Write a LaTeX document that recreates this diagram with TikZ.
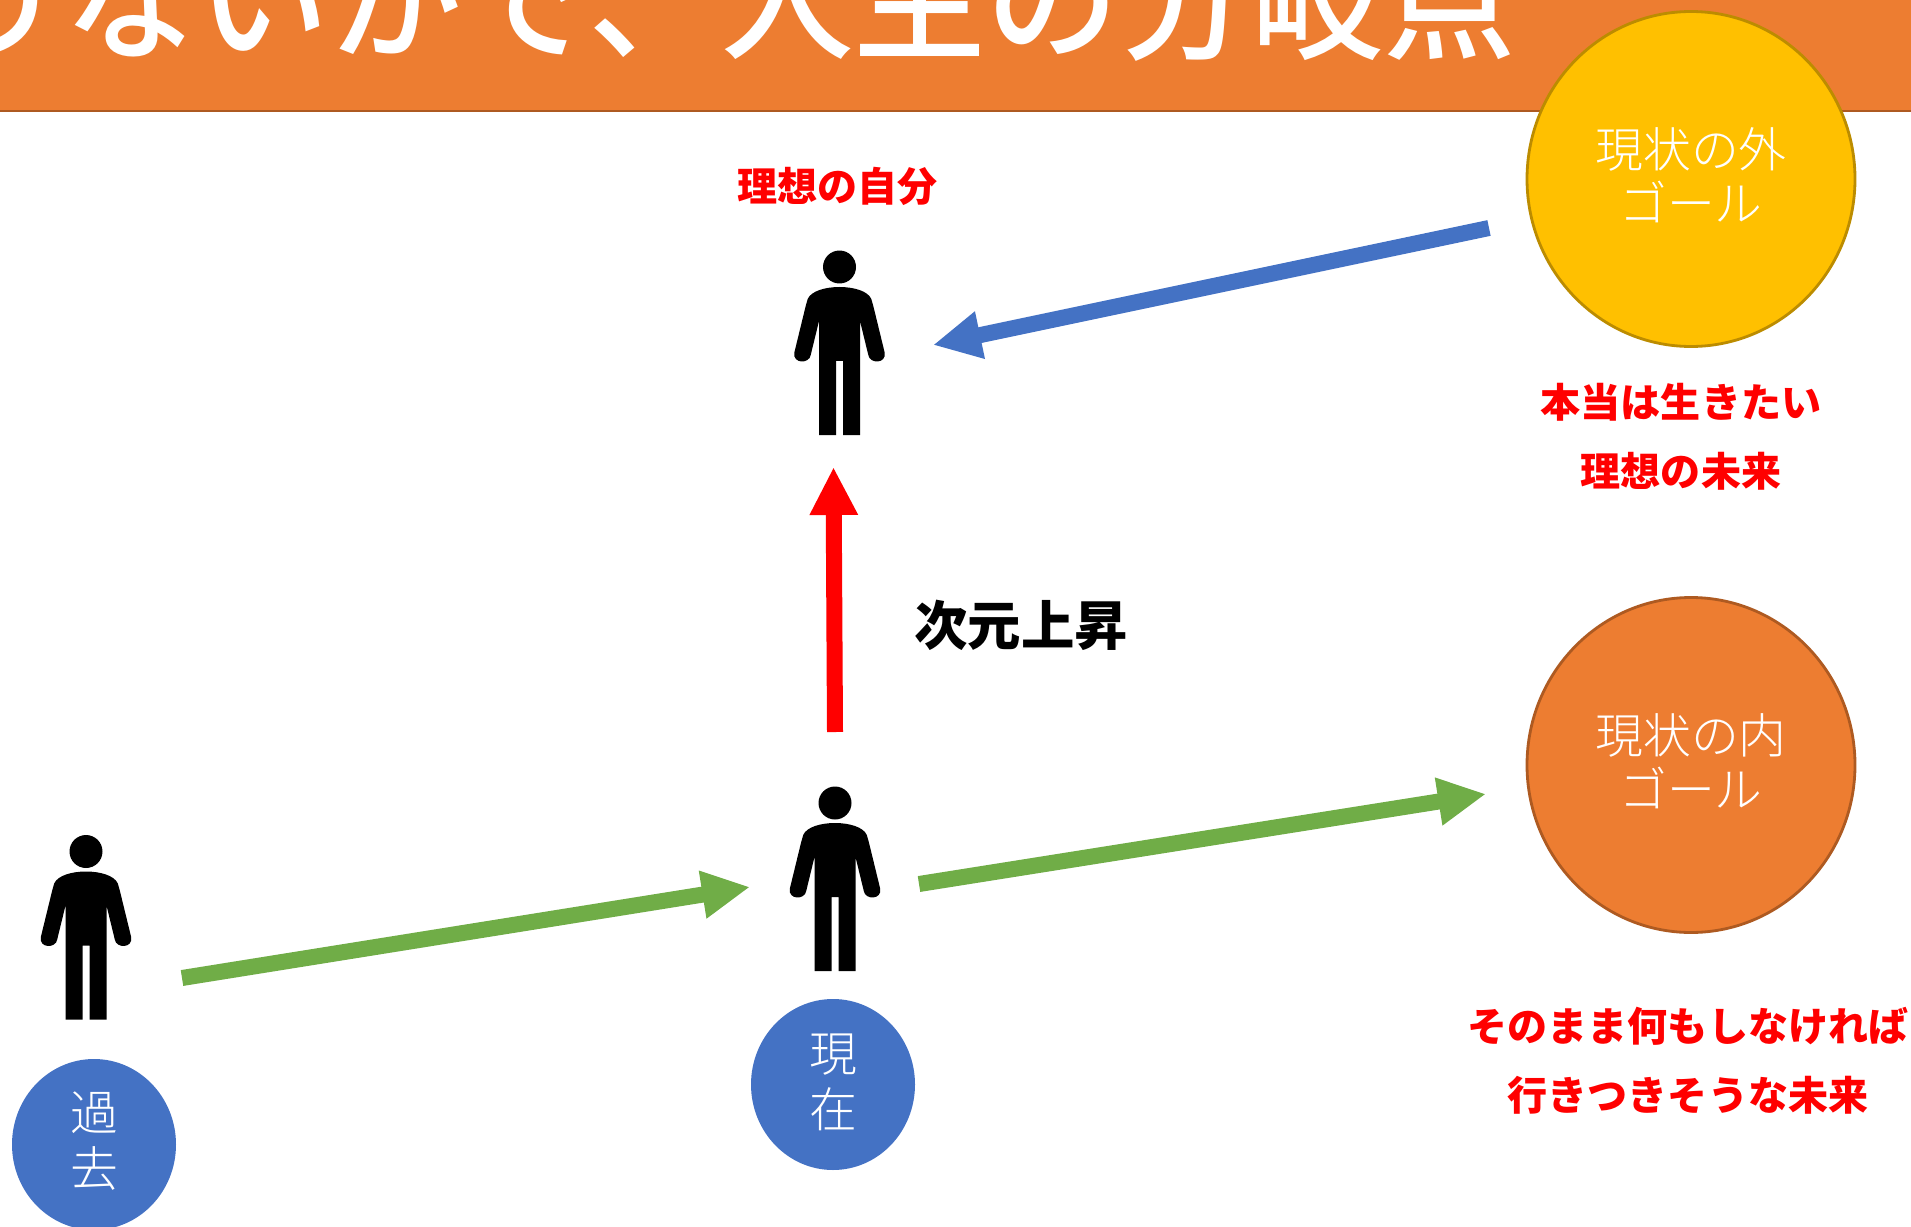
\documentclass[tikz,border=0pt]{standalone}
\usepackage{fontspec}
\setmainfont{Noto Sans CJK JP}
\newfontfamily\jpthin{Noto Sans CJK JP Light}
\newfontfamily\jpmid{Noto Sans CJK JP Medium}
\usepackage{tikz}
\usetikzlibrary{arrows.meta}
\usetikzlibrary{shapes.geometric}
\definecolor{headorange}{HTML}{ED7D31}
\definecolor{headline}{HTML}{AE5A21}
\definecolor{goalyellow}{HTML}{FFC000}
\definecolor{goalline}{HTML}{BC8C00}
\definecolor{timeblue}{HTML}{4472C4}
\definecolor{movegreen}{HTML}{70AD47}
\tikzstyle{person}=[shape=rectangle,inner sep=0pt,minimum width=9.6mm,minimum height=18.8mm,path picture={
	\begin{scope}[shift={(path picture bounding box.center)}]
	\fill[black] (0,.76) circle (.165);
	\fill[black] (-.318,.44) .. controls (-.25,.6) and (.25,.6) .. (.318,.44) -- (.338,.37) -- (.452,-.097) .. controls (.47,-.21) and (.3,-.21) .. (.288,-.12) -- (.205,.22) -- (.205,-.92) -- (.035,-.92) -- (.035,-.18) -- (-.035,-.18) -- (-.035,-.92) -- (-.205,-.92) -- (-.205,.22) -- (-.288,-.12) .. controls (-.3,-.21) and (-.47,-.21) .. (-.452,-.097) -- (-.338,.37) -- cycle;
	\end{scope}}]
\tikzstyle{goalnode}=[shape=ellipse,line width=.8pt,inner sep=0pt,minimum width=32.8mm,minimum height=33.5mm,text=white,align=center,font=\jpthin\fontsize{13.6}{15.4}\selectfont]
\tikzstyle{timenode}=[shape=ellipse,fill=timeblue,inner sep=0pt,minimum width=16.4mm,minimum height=17.1mm,text=white,align=center,font=\jpthin\fontsize{13.6}{16}\selectfont]
\tikzstyle{redlabel}=[text=red,align=center,inner sep=0pt,font=\bfseries\fontsize{11.4}{19.6}\selectfont]
\tikzstyle{taro}=[-{Triangle[length=4.8mm,width=4.5mm]},line width=1.6mm]

\begin{document}
\begin{tikzpicture}
	\clip (0,0) rectangle (19.11,-12.27);
	
	% Title band
	\fill[headorange] (0,0) rectangle (19.11,-1.1);
	\draw[headline,line width=.7pt] (0,-1.11) -- (19.11,-1.11);
	\node[anchor=base east,inner sep=0pt,text=white,font=\jpmid\fontsize{37.7}{38}\selectfont] (title) at (15.17,-.5) {りないかで、人生の分岐点};
	
	% Goals
	\node[goalnode,fill=goalyellow,draw=goalline] (outgoal) at (16.91,-1.79) {現状の外\\ゴール\rule[-2.4pt]{0pt}{0pt}};
	\node[goalnode,fill=headorange,draw=headline] (ingoal) at (16.91,-7.65) {現状の内\\ゴール\rule[-2.4pt]{0pt}{0pt}};
	\node[redlabel] (outtext) at (16.81,-4.37) {本当は生きたい\\理想の未来};
	\node[redlabel] (intext) at (16.88,-10.61) {そのまま何もしなければ\\行きつきそうな未来};
	
	% People
	\node[person] (ideal) at (8.395,-3.43) {};
	\node[person] (now) at (8.35,-8.79) {};
	\node[person] (past) at (.86,-9.275) {};
	\node[redlabel] (idealtext) at (8.375,-1.86) {理想の自分};
	\node[timenode] (nowtime) at (8.33,-10.845) {現\\在\rule[-2.2pt]{0pt}{0pt}};
	\node[timenode] (pasttime) at (.94,-11.445) {過\\去\rule[-3pt]{0pt}{0pt}};
	
	% Arrow ends
	\coordinate (pastout) at (1.82,-9.78);
	\coordinate (nowin) at (7.5,-8.87);
	\coordinate (nowout) at (9.19,-8.84);
	\coordinate (ingoalin) at (14.86,-7.94);
	\coordinate (nowup) at (8.35,-7.32);
	\coordinate (idealin) at (8.335,-4.67);
	\coordinate (outgoalout) at (14.89,-2.28);
	\coordinate (idealside) at (9.33,-3.45);
	
	% Arrows
	\draw[taro,movegreen] (pastout) -- (nowin);
	\draw[taro,movegreen] (nowout) -- (ingoalin);
	\draw[taro,red] (nowup) -- (idealin);
	\draw[taro,timeblue] (outgoalout) -- (idealside);
	\node[inner sep=0pt,font=\bfseries\fontsize{15.2}{15.2}\selectfont] (uptext) at (10.21,-6.25) {次元上昇};
	
\end{tikzpicture}
\end{document}
